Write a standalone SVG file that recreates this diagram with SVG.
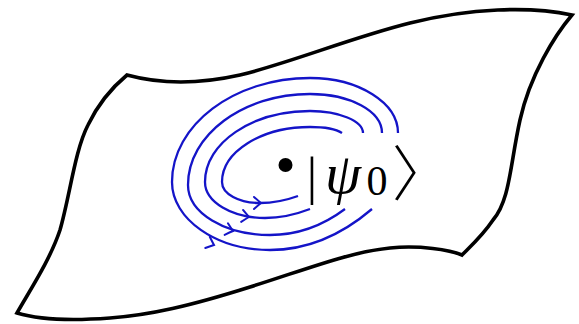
<svg xmlns="http://www.w3.org/2000/svg" width="579" height="324" viewBox="0 0 579 324">
<style>
.sheet{fill:#ffffff;stroke:#000000;stroke-width:3.6;stroke-linejoin:miter;stroke-miterlimit:10}
.flow{fill:none;stroke:#1414c8;stroke-width:2.3;stroke-linecap:butt}
.tip{fill:none;stroke:#1414c8;stroke-width:2;stroke-linecap:round}
.math{font-family:"Liberation Serif","DejaVu Serif",serif;fill:#000000}
</style>
<defs>
<path id="ah" d="M-7,-6 Q-2.5,-2 0,0 Q-2.5,2 -7,6"/>
</defs>
<rect width="579" height="324" fill="#ffffff"/>
<g id="sheet">
<path class="sheet" d="M127,75 C160,84 200,84 240,75 C290,63 350,38 410,23 C470,8 530,6 572,15 C555,35 530,75 520,120 C510,165 510,200 493,220 C483,235 472,245 462,255 C450,250 420,245 390,248 C350,252 310,268 250,287 C190,306 150,315 110,318 C70,321 40,320 17,313 C30,290 50,260 60,230 C70,195 75,150 88,125 C100,100 115,85 127,75 Z"/>
</g>
<g id="connectors">
<path class="flow" d="M398,133 C398,103 359,78 310,78 C234,78 172,125 172,182 C172,219 216,250 270,250 C310,250 345,232 372,209"/>
<path class="flow" d="M382,133 C382,111 350,94 310,94 C243,94 188,135 188,185 C188,213 225,235 270,235 C300,235 325,224 345,209"/>
<path class="flow" d="M363,133 C363,121 339,111 310,111 C252,111 205,143 205,182 C205,202 232,218 265,218 C282,218 297,214 310,209"/>
<path class="flow" d="M342,133 C336,129 323,127 310,127 C261,127 222,152 222,182 C222,194 239,203 260,203 C273,203 287,200 298,196"/>
<use href="#ah" class="tip" transform="translate(214,245) rotate(22)"/>
<use href="#ah" class="tip" transform="translate(233,231) rotate(16)"/>
<use href="#ah" class="tip" transform="translate(249,217) rotate(9)"/>
<use href="#ah" class="tip" transform="translate(261,203) rotate(0)"/>
</g>
<g id="state">
<circle cx="285.5" cy="165" r="7" fill="#000000"/>
<text class="math" x="312" y="194" font-size="52" text-anchor="middle">|</text>
<text class="math" x="343" y="193" font-size="58" font-style="italic" text-anchor="middle">ψ</text>
<text class="math" x="377" y="195" font-size="42" text-anchor="middle">0</text>
<text x="422" y="196" font-size="60" text-anchor="middle" font-family="'Noto Sans CJK JP','Noto Sans CJK SC',sans-serif" font-weight="300">〉</text>
</g>
</svg>
